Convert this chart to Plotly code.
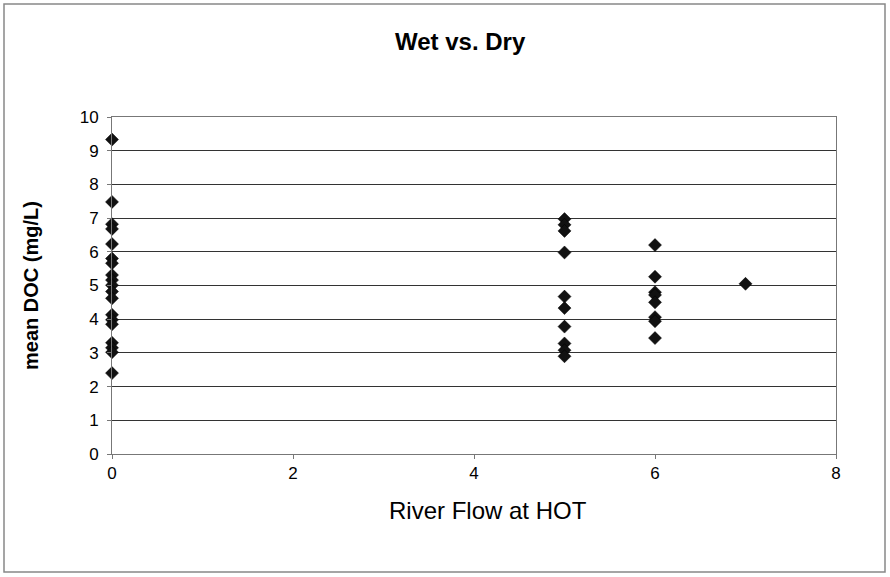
import plotly.graph_objects as go

flow_0 = [9.33, 7.48, 6.82, 6.68, 6.23, 5.8, 5.66, 5.31, 5.16, 5.01, 4.82, 4.62, 4.13, 3.98, 3.85, 3.3, 3.15, 3.02, 2.4]
flow_5 = [6.97, 6.8, 6.62, 5.98, 4.67, 4.33, 3.78, 3.28, 3.08, 2.9]
flow_6 = [6.2, 5.26, 4.8, 4.72, 4.5, 4.06, 3.94, 3.44]
flow_7 = [5.05]

x_vals = [0] * len(flow_0) + [5] * len(flow_5) + [6] * len(flow_6) + [7] * len(flow_7)
y_vals = flow_0 + flow_5 + flow_6 + flow_7

title_text = "Wet vs. Dry"
x_title = "River Flow at HOT"
y_title = "mean DOC (mg/L)"

FONT = "Liberation Sans, Arial, sans-serif"

fig = go.Figure()
fig.add_trace(go.Scatter(
    x=x_vals, y=y_vals, mode="markers", cliponaxis=False,
    marker=dict(symbol="diamond", size=10, color="#111111",
                line=dict(color="#000000", width=0.5)),
    showlegend=False,
))

L, R, T, B = 112, 54, 117, 123
W, H = 890, 577
pw, ph = W - L - R, H - T - B

def px2paper_x(px):
    return (px - L) / pw

def px2paper_y(py):
    return (H - B - py) / ph

fig.update_layout(
    width=W, height=H,
    margin=dict(l=L, r=R, t=T, b=B),
    paper_bgcolor="white", plot_bgcolor="white",
    font=dict(family=FONT, size=16, color="black"),
    xaxis=dict(range=[0, 8], tickvals=[0, 2, 4, 6, 8], showgrid=False,
               zeroline=False, showline=True, linecolor="#777777", linewidth=1,
               mirror=True, ticks="outside", ticklen=4, tickcolor="#777777",
               tickfont=dict(size=17, family=FONT)),
    yaxis=dict(range=[0, 10], tickvals=list(range(0, 11)), showgrid=True,
               gridcolor="#333333", gridwidth=1, zeroline=False,
               showline=True, linecolor="#777777", linewidth=1, mirror=True,
               ticks="outside", ticklen=4, tickcolor="#777777",
               ticklabelstandoff=5,
               tickfont=dict(size=17, family=FONT)),
    shapes=[dict(type="rect", xref="paper", yref="paper",
                 x0=px2paper_x(4), x1=px2paper_x(885),
                 y0=px2paper_y(572), y1=px2paper_y(4),
                 line=dict(color="#888888", width=1.5), layer="below")],
    annotations=[
        dict(text="<b>" + title_text + "</b>", xref="paper", yref="paper",
             x=px2paper_x(460), y=px2paper_y(42), showarrow=False,
             font=dict(size=24, family=FONT), xanchor="center", yanchor="middle"),
        dict(text=x_title, xref="paper", yref="paper",
             x=px2paper_x(488), y=px2paper_y(510), showarrow=False,
             font=dict(size=24, family=FONT), xanchor="center", yanchor="middle"),
        dict(text="<b>" + y_title + "</b>", xref="paper", yref="paper",
             x=px2paper_x(31), y=px2paper_y(286), showarrow=False, textangle=-90,
             font=dict(size=20, family=FONT), xanchor="center", yanchor="middle"),
    ],
)

fig.write_html("out.html", config={"displayModeBar": False},
               post_script="document.body.style.margin='0';document.body.style.padding='0';document.body.style.overflow='hidden';")
